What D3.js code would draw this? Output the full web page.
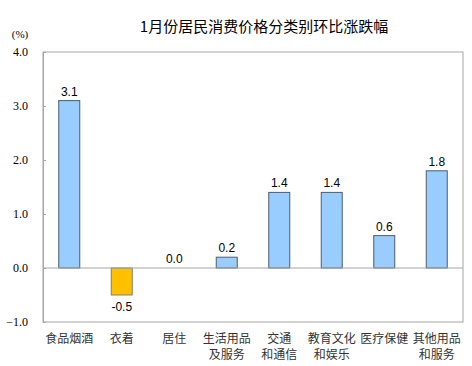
<!DOCTYPE html>
<html>
<head>
<meta charset="utf-8">
<script src="https://cdn.jsdelivr.net/npm/d3@7"></script>
<style>
  body { margin: 0; background: #fff; }
  svg { display: block; }
</style>
</head>
<body>
<script>
const categories = [
  ["食品烟酒"], ["衣着"], ["居住"], ["生活用品", "及服务"],
  ["交通", "和通信"], ["教育文化", "和娱乐"], ["医疗保健"], ["其他用品", "和服务"]
];
const values = [3.1, -0.5, 0.0, 0.2, 1.4, 1.4, 0.6, 1.8];
const yTicks = [-1.0, 0.0, 1.0, 2.0, 3.0, 4.0];
const title = "1月份居民消费价格分类别环比涨跌幅";

const width = 472, height = 366;
const plotLeft = 43, plotRight = 463, plotTop = 52, plotBottom = 322;

const svg = d3.select("body").append("svg").attr("width", width).attr("height", height);

const xScale = d3.scaleBand()
  .domain(d3.range(categories.length))
  .range([plotLeft, plotRight]);

const yScale = d3.scaleLinear()
  .domain([-1, 4])
  .range([plotBottom, plotTop]);

// 枠
svg.append("rect")
  .attr("x", plotLeft).attr("y", plotTop)
  .attr("width", plotRight - plotLeft).attr("height", plotBottom - plotTop)
  .attr("fill", "none").attr("stroke", "#a6a6a6").attr("stroke-width", 1);

// y 軸
const axisy = d3.axisLeft(yScale)
  .tickValues(yTicks)
  .tickSize(-3)
  .tickPadding(15)
  .tickFormat(d3.format(".1f"));

const gy = svg.append("g")
  .attr("transform", "translate(" + plotLeft + ",0)")
  .call(axisy);
gy.select(".domain").attr("stroke", "#a6a6a6");
gy.selectAll(".tick line").attr("stroke", "#a6a6a6");
gy.selectAll(".tick text")
  .attr("font-family", "'Liberation Serif', 'Times New Roman', serif")
  .attr("font-size", 12)
  .attr("fill", "#000");

svg.append("text")
  .attr("x", 20).attr("y", 38)
  .attr("text-anchor", "middle")
  .attr("font-family", "'Liberation Serif', serif")
  .attr("font-size", 11)
  .text("(%)");

// タイトル
svg.append("text")
  .attr("x", 264).attr("y", 32)
  .attr("text-anchor", "middle")
  .attr("font-family", "'Noto Sans CJK SC', sans-serif")
  .attr("font-size", 15)
  .text(title);

// 棒
const barWidth = xScale.bandwidth() * 0.4;
svg.append("g").selectAll("rect")
  .data(values)
  .enter()
  .append("rect")
  .attr("x", (d, i) => xScale(i) + (xScale.bandwidth() - barWidth) / 2)
  .attr("y", d => yScale(Math.max(0, d)))
  .attr("width", barWidth)
  .attr("height", d => Math.abs(yScale(d) - yScale(0)))
  .attr("fill", d => d < 0 ? "#ffc000" : "#99ccff")
  .attr("stroke", d => d < 0 ? "#7f7f7f" : "#4d5d6e")
  .attr("stroke-width", 1);

// ゼロ線
svg.append("line")
  .attr("x1", plotLeft).attr("x2", plotRight)
  .attr("y1", yScale(0)).attr("y2", yScale(0))
  .attr("stroke", "#a6a6a6");

// 値ラベル
svg.append("g").selectAll("text")
  .data(values)
  .enter()
  .append("text")
  .attr("x", (d, i) => xScale(i) + xScale.bandwidth() / 2)
  .attr("y", d => d < 0 ? yScale(d) + 16 : yScale(d) - 5)
  .attr("text-anchor", "middle")
  .attr("font-family", "'Liberation Sans', Arial, sans-serif")
  .attr("font-size", 12)
  .text(d => d.toFixed(1));

// 分類ラベル
const cat = svg.append("g").selectAll("text")
  .data(categories)
  .enter()
  .append("text")
  .attr("text-anchor", "middle")
  .attr("font-family", "'Noto Sans CJK SC', sans-serif")
  .attr("font-size", 12)
  .attr("fill", "#333");
cat.selectAll("tspan")
  .data((d, i) => d.map(s => ({ s, i })))
  .enter()
  .append("tspan")
  .attr("x", d => xScale(d.i) + xScale.bandwidth() / 2)
  .attr("y", (d, j) => 343 + j * 16)
  .text(d => d.s);
</script>
</body>
</html>
